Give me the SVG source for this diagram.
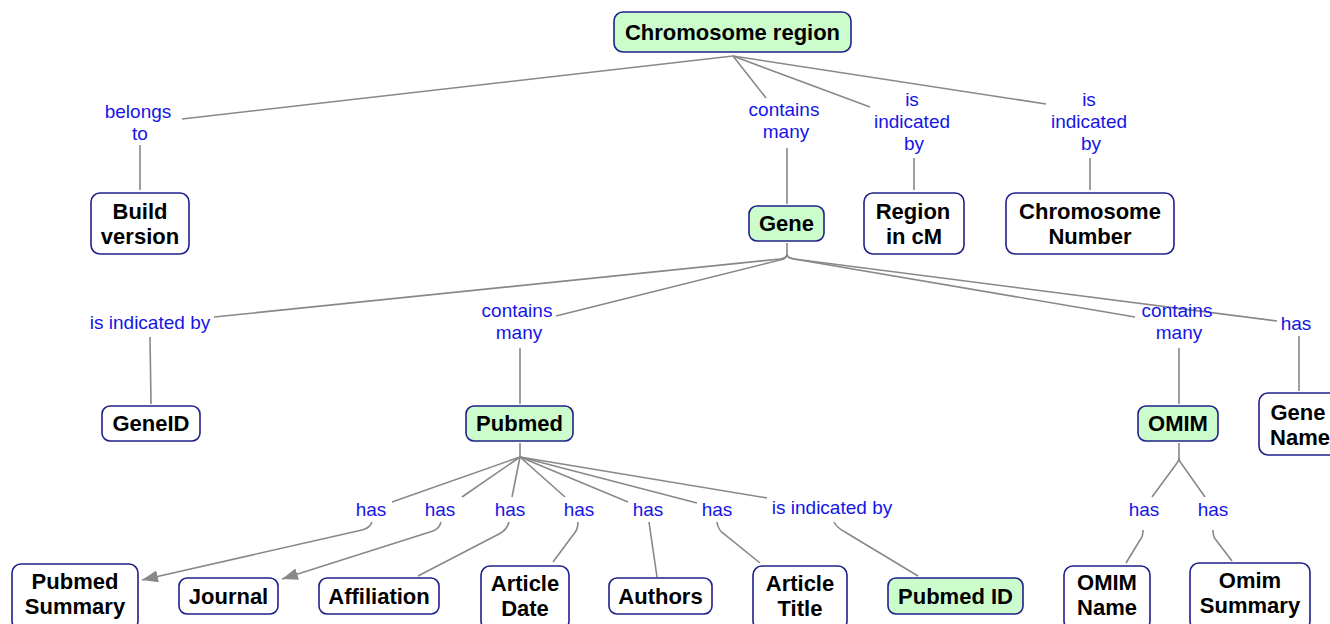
<svg xmlns="http://www.w3.org/2000/svg" width="1330" height="624" viewBox="0 0 1330 624">
<defs>
<style>
.n rect{fill:#ffffff;stroke:#20208a;stroke-width:1.6}
.g rect{fill:#ccfccc}
.n text{font-family:"Liberation Sans",Arial,sans-serif;font-weight:bold;font-size:22px;fill:#000;text-anchor:middle}
.lbl{font-family:"Liberation Sans",Arial,sans-serif;font-size:19px;fill:#1515e6;text-anchor:middle}
.c path{fill:none;stroke:#888888;stroke-width:1.6}
</style>
<marker id="arr" markerUnits="userSpaceOnUse" markerWidth="17" markerHeight="13" refX="16" refY="6" orient="auto">
<path d="M0,0 L16,6 L0,12 z" fill="#888888"/>
</marker>
</defs>
<rect width="1330" height="624" fill="#ffffff"/>

<g id="connectors" class="c">
<path d="M733,56 L182,119"/>
<path d="M140,145 L140,190"/>
<path d="M733,56 L766,98"/>
<path d="M787,148 L787,204"/>
<path d="M733,56 L870,107"/>
<path d="M914,158 L914,190"/>
<path d="M733,56 L1046,104"/>
<path d="M1090,158 L1090,190"/>

<path d="M787,243 L787,254 Q787,258 780,259 L214,317"/>
<path d="M787,254 Q787,259 780,260 L556,316"/>
<path d="M787,254 Q787,258 794,259 L1135,317"/>
<path d="M787,254 Q787,258 794,259 L1277,321"/>
<path d="M150,337 L151,404"/>
<path d="M520,348 L520,404"/>
<path d="M1179,348 L1179,404"/>
<path d="M1299,336 L1299,391"/>

<path d="M520,443 L520,457 L392,502"/>
<path d="M520,457 L462,497"/>
<path d="M520,457 L512,497"/>
<path d="M520,457 L565,497"/>
<path d="M520,457 L628,502"/>
<path d="M520,457 L697,503"/>
<path d="M520,457 L767,498"/>

<path d="M372,522 Q370,528 362,530 L142,580" marker-end="url(#arr)"/>
<path d="M441,522 Q439,529 433,531 L282,579" marker-end="url(#arr)"/>
<path d="M509,522 Q507,530 499,534 L418,576"/>
<path d="M578,522 Q578,530 573,535 L553,562"/>
<path d="M649,522 L657,577"/>
<path d="M717,522 Q718,530 724,534 L760,563"/>
<path d="M834,522 Q837,528 845,532 L918,576"/>

<path d="M1179,443 L1179,458 Q1179,461 1177,463 L1152,497"/>
<path d="M1179,458 Q1179,461 1181,463 L1205,497"/>
<path d="M1143,530 Q1143,537 1140,540 L1126,563"/>
<path d="M1213,530 Q1213,537 1216,540 L1232,561"/>
</g>

<g id="labels">
<text class="lbl" x="138" y="118">belongs</text>
<text class="lbl" x="140" y="140">to</text>
<text class="lbl" x="784" y="116">contains</text>
<text class="lbl" x="786" y="138">many</text>
<text class="lbl" x="912" y="106">is</text>
<text class="lbl" x="912" y="128">indicated</text>
<text class="lbl" x="914" y="150">by</text>
<text class="lbl" x="1089" y="106">is</text>
<text class="lbl" x="1089" y="128">indicated</text>
<text class="lbl" x="1091" y="150">by</text>
<text class="lbl" x="150" y="329">is indicated by</text>
<text class="lbl" x="517" y="317">contains</text>
<text class="lbl" x="519" y="339">many</text>
<text class="lbl" x="1177" y="317">contains</text>
<text class="lbl" x="1179" y="339">many</text>
<text class="lbl" x="1296" y="330">has</text>
<text class="lbl" x="371" y="516">has</text>
<text class="lbl" x="440" y="516">has</text>
<text class="lbl" x="510" y="516">has</text>
<text class="lbl" x="579" y="516">has</text>
<text class="lbl" x="648" y="516">has</text>
<text class="lbl" x="717" y="516">has</text>
<text class="lbl" x="832" y="514">is indicated by</text>
<text class="lbl" x="1144" y="516">has</text>
<text class="lbl" x="1213" y="516">has</text>
</g>

<g id="chromosome-region" class="n g"><rect x="614" y="12" width="237" height="40" rx="9"/><text x="732.5" y="40">Chromosome region</text></g>
<g id="build-version" class="n"><rect x="91" y="193" width="98" height="61" rx="9"/><text x="140" y="219">Build</text><text x="140" y="244">version</text></g>
<g id="gene" class="n g"><rect x="749" y="206" width="75" height="35" rx="8"/><text x="786.5" y="231">Gene</text></g>
<g id="region-in-cm" class="n"><rect x="864" y="193" width="100" height="61" rx="9"/><text x="913" y="219">Region</text><text x="914" y="244">in cM</text></g>
<g id="chromosome-number" class="n"><rect x="1006" y="193" width="168" height="61" rx="9"/><text x="1090" y="219">Chromosome</text><text x="1090" y="244">Number</text></g>
<g id="geneid" class="n"><rect x="102" y="406" width="98" height="35" rx="8"/><text x="151" y="431">GeneID</text></g>
<g id="pubmed" class="n g"><rect x="466" y="406" width="107" height="35" rx="8"/><text x="519.5" y="431">Pubmed</text></g>
<g id="omim" class="n g"><rect x="1138" y="406" width="80" height="35" rx="8"/><text x="1178" y="431">OMIM</text></g>
<g id="gene-name" class="n"><rect x="1259" y="393" width="84" height="62" rx="9"/><text x="1298" y="420">Gene</text><text x="1300" y="445">Name</text></g>
<g id="pubmed-summary" class="n"><rect x="12" y="564" width="126" height="66" rx="9"/><text x="75" y="589">Pubmed</text><text x="75" y="614">Summary</text></g>
<g id="journal" class="n"><rect x="179" y="578" width="99" height="36" rx="8"/><text x="228.5" y="604">Journal</text></g>
<g id="affiliation" class="n"><rect x="319" y="578" width="120" height="36" rx="8"/><text x="379" y="604">Affiliation</text></g>
<g id="article-date" class="n"><rect x="481" y="566" width="88" height="64" rx="9"/><text x="525" y="591">Article</text><text x="525" y="616">Date</text></g>
<g id="authors" class="n"><rect x="609" y="578" width="103" height="36" rx="8"/><text x="660.5" y="604">Authors</text></g>
<g id="article-title" class="n"><rect x="753" y="566" width="94" height="64" rx="9"/><text x="800" y="591">Article</text><text x="800" y="616">Title</text></g>
<g id="pubmed-id" class="n g"><rect x="888" y="578" width="135" height="36" rx="8"/><text x="955.5" y="604">Pubmed ID</text></g>
<g id="omim-name" class="n"><rect x="1064" y="566" width="86" height="64" rx="9"/><text x="1107" y="590">OMIM</text><text x="1107" y="615">Name</text></g>
<g id="omim-summary" class="n"><rect x="1190" y="563" width="120" height="67" rx="9"/><text x="1250" y="588">Omim</text><text x="1250" y="613">Summary</text></g>
</svg>
